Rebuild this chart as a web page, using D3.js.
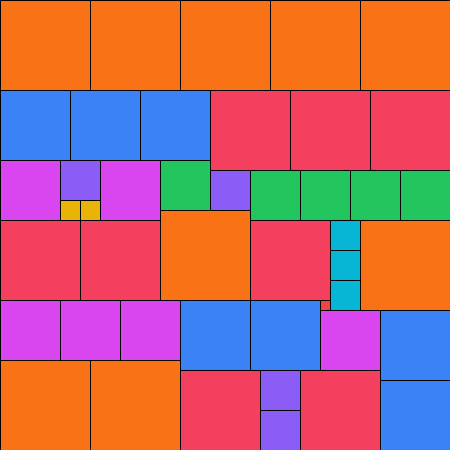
<!DOCTYPE html>
<html>
<head>
<meta charset="utf-8">
<script src="https://cdn.jsdelivr.net/npm/d3@7"></script>
<style>
  html, body { margin: 0; padding: 0; background: #fff; }
  svg { display: block; }
</style>
</head>
<body>
<svg id="chart"></svg>
<script>
// Square sizes (in grid units) and their top-left corners
var sizes = [9, 9, 9, 9, 9,
             7, 7, 7, 8, 8, 8,
             6, 4, 2, 2, 6, 5, 4, 5, 5, 5, 5,
             8, 8, 9, 8, 3, 3, 3, 9, 1,
             6, 6, 6, 7, 7, 6, 7, 7,
             9, 9, 8, 4, 4, 8];
var cols  = [0, 9, 18, 27, 36,
             0, 7, 14, 21, 29, 37,
             0, 6, 6, 8, 10, 16, 21, 25, 30, 35, 40,
             0, 8, 16, 25, 33, 33, 33, 36, 32,
             0, 6, 12, 18, 25, 32, 38, 38,
             0, 9, 18, 26, 26, 30];
var rows  = [0, 0, 0, 0, 0,
             9, 9, 9, 9, 9, 9,
             16, 16, 20, 20, 16, 16, 17, 17, 17, 17, 17,
             22, 22, 21, 22, 22, 25, 28, 22, 30,
             30, 30, 30, 30, 30, 31, 31, 38,
             36, 36, 37, 37, 41, 37];

// colour per square size
var sizeColors = {
    1: "#ef4444", 2: "#eab308", 3: "#06b6d4", 4: "#8b5cf6", 5: "#22c55e",
    6: "#d946ef", 7: "#3b82f6", 8: "#f43f5e", 9: "#f97316"
};

var width = 450, height = 450;

var x = d3.scaleLinear().domain([0, 45]).range([0, width]);
var y = d3.scaleLinear().domain([0, 45]).range([0, height]);

var svg = d3.select("#chart")
    .attr("width", width)
    .attr("height", height);

var data = sizes.map(function(s, i) { return { size: s, col: cols[i], row: rows[i] }; });

svg.selectAll(".cell")
    .data(data)
    .enter().append("rect")
    .attr("class", "cell")
    .attr("x", function(d) { return x(d.col); })
    .attr("y", function(d) { return y(d.row); })
    .attr("width", function(d) { return x(d.size) - x(0); })
    .attr("height", function(d) { return y(d.size) - y(0); })
    .attr("fill", function(d) { return sizeColors[d.size]; })
    .attr("stroke", "#000")
    .attr("stroke-width", 1)
    .attr("shape-rendering", "crispEdges");
</script>
</body>
</html>
